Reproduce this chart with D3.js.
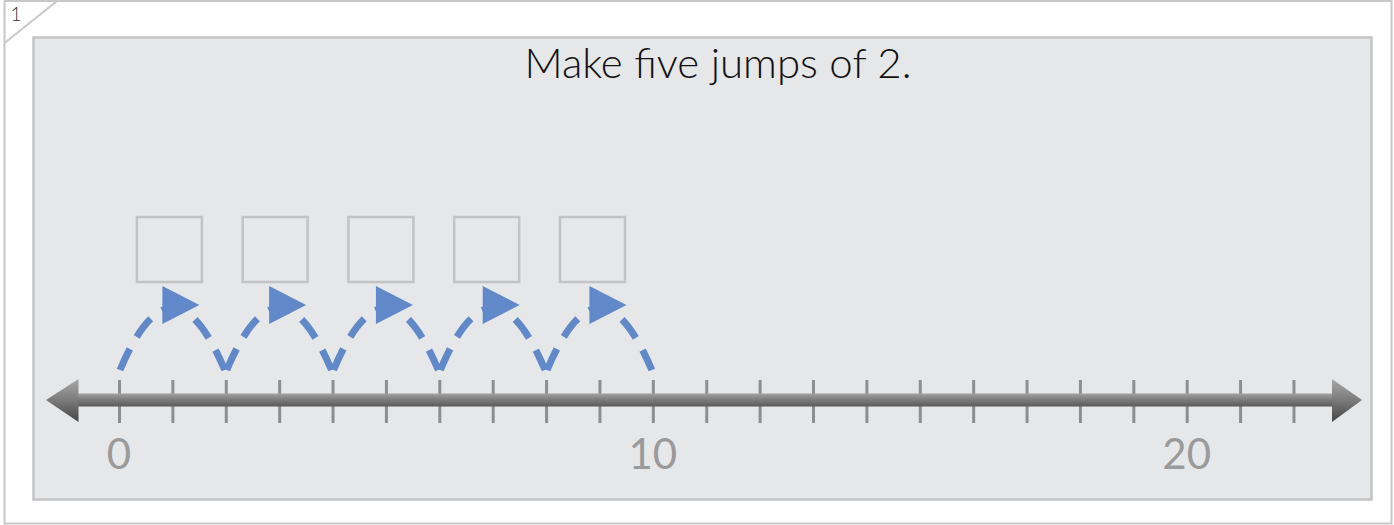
<!DOCTYPE html>
<html>
<head>
<meta charset="utf-8">
<script src="https://cdn.jsdelivr.net/npm/d3@7"></script>
<style>
  html, body { margin: 0; padding: 0; background: #fff; }
  svg { display: block; }
</style>
</head>
<body>
<div id="chart"></div>
<script>
(function () {
  'use strict';
  /* global d3 */

  var title = 'Make five jumps of 2.',
      pageLabel = '1',
      tickValues = [0, 1, 2, 3, 4, 5, 6, 7, 8, 9, 10, 11, 12, 13, 14, 15, 16, 17, 18, 19, 20, 21, 22],
      labelValues = [0, 10, 20],
      jumpFrom = [0, 2, 4, 6, 8],
      jumpTo = [2, 4, 6, 8, 10];

  var w = 1394,
      h = 525,
      axisY = 400,
      blue = '#6189c9';

  var svg = d3.select('#chart')
    .append('svg')
    .attr('width', w)
    .attr('height', h);

  var defs = svg.append('defs');

  var lineGrad = defs.append('linearGradient')
    .attr('id', 'line-grad')
    .attr('x1', 0).attr('y1', 0).attr('x2', 0).attr('y2', 1);
  lineGrad.append('stop').attr('offset', '0%').attr('stop-color', '#a2a2a2');
  lineGrad.append('stop').attr('offset', '45%').attr('stop-color', '#7e7e7e');
  lineGrad.append('stop').attr('offset', '100%').attr('stop-color', '#5a5a5a');

  var headGrad = defs.append('linearGradient')
    .attr('id', 'head-grad')
    .attr('x1', 0).attr('y1', 0).attr('x2', 0).attr('y2', 1);
  headGrad.append('stop').attr('offset', '0%').attr('stop-color', '#a8a8a8');
  headGrad.append('stop').attr('offset', '50%').attr('stop-color', '#7a7a7a');
  headGrad.append('stop').attr('offset', '100%').attr('stop-color', '#444');

  // page frame with the cut corner
  svg.append('rect')
    .attr('x', 4.5).attr('y', 1)
    .attr('width', 1387).attr('height', 522.5)
    .attr('fill', '#fff')
    .attr('stroke', '#c8c8c8')
    .attr('stroke-width', 2);

  svg.append('line')
    .attr('x1', 4.5).attr('y1', 43)
    .attr('x2', 57).attr('y2', 1)
    .attr('stroke', '#c8c8c8')
    .attr('stroke-width', 2);

  svg.append('text')
    .attr('x', 16).attr('y', 21)
    .attr('text-anchor', 'middle')
    .attr('font-family', 'Lato, sans-serif')
    .attr('font-weight', 300)
    .attr('font-size', 19)
    .attr('fill', '#333')
    .text(pageLabel);

  // inner panel
  svg.append('rect')
    .attr('x', 33.5).attr('y', 37.5)
    .attr('width', 1338).attr('height', 462)
    .attr('fill', '#e6e7e9')
    .attr('stroke', '#c3c4c6')
    .attr('stroke-width', 2.5);

  svg.append('text')
    .attr('x', 718).attr('y', 78)
    .attr('text-anchor', 'middle')
    .attr('font-family', 'Lato, sans-serif')
    .attr('font-weight', 300)
    .attr('font-size', 42)
    .attr('fill', '#111')
    .text(title);

  var x = d3.scaleLinear()
    .domain([0, 20])
    .range([119, 1186.7]);

  // tick marks through the line
  var tickAxis = d3.axisBottom(x)
    .tickValues(tickValues)
    .tickSize(43)
    .tickFormat('');

  var tickG = svg.append('g')
    .attr('transform', 'translate(0,380)')
    .call(tickAxis);
  tickG.select('.domain').remove();
  tickG.selectAll('.tick line')
    .attr('stroke', '#8e8e8e')
    .attr('stroke-width', 3);

  // the number line
  svg.append('rect')
    .attr('x', 76).attr('y', axisY - 6.5)
    .attr('width', 1258).attr('height', 13)
    .attr('fill', 'url(#line-grad)');

  svg.append('path')
    .attr('d', 'M46,' + axisY + 'L78.5,' + (axisY - 21) + 'L78.5,' + (axisY + 22) + 'Z')
    .attr('fill', 'url(#head-grad)');

  svg.append('path')
    .attr('d', 'M1362,' + axisY + 'L1332,' + (axisY - 21) + 'L1332,' + (axisY + 22) + 'Z')
    .attr('fill', 'url(#head-grad)');

  // labels
  svg.selectAll('text.lbl')
    .data(labelValues)
    .enter()
    .append('text')
    .attr('class', 'lbl')
    .attr('x', function (d) { return x(d); })
    .attr('y', 469)
    .attr('text-anchor', 'middle')
    .attr('font-family', 'Lato, sans-serif')
    .attr('font-size', 42)
    .attr('fill', '#9a9a9a')
    .text(function (d) { return d; });

  // jumps
  var jumps = jumpFrom.map(function (d, i) { return {from: d, to: jumpTo[i]}; });
  var baseY = 370,
      rise = 62;

  svg.selectAll('path.jump')
    .data(jumps)
    .enter()
    .append('path')
    .attr('class', 'jump')
    .attr('d', function (d) {
      var p = d3.path(),
          x0 = x(d.from) + 1,
          x1 = x(d.to) - 1;
      p.moveTo(x0, baseY);
      p.quadraticCurveTo((x0 + x1) / 2, baseY - 2 * rise, x1, baseY);
      return p.toString();
    })
    .attr('fill', 'none')
    .attr('stroke', blue)
    .attr('stroke-width', 7)
    .attr('stroke-dasharray', '23,14');

  svg.selectAll('path.head')
    .data(jumps)
    .enter()
    .append('path')
    .attr('class', 'head')
    .attr('d', function (d) {
      var m = x((d.from + d.to) / 2);
      return 'M' + (m - 10) + ',286L' + (m + 27) + ',305L' + (m - 10) + ',324Z';
    })
    .attr('fill', blue);

  // answer boxes, drawn a little left of each jump's middle
  svg.selectAll('rect.box')
    .data(jumps)
    .enter()
    .append('rect')
    .attr('class', 'box')
    .attr('x', function (d, i) { return x((d.from + d.to) / 2) - 35.5 - i; })
    .attr('y', 217)
    .attr('width', 65)
    .attr('height', 65)
    .attr('fill', 'none')
    .attr('stroke', '#c2c3c5')
    .attr('stroke-width', 2.5);

}());
</script>
</body>
</html>
